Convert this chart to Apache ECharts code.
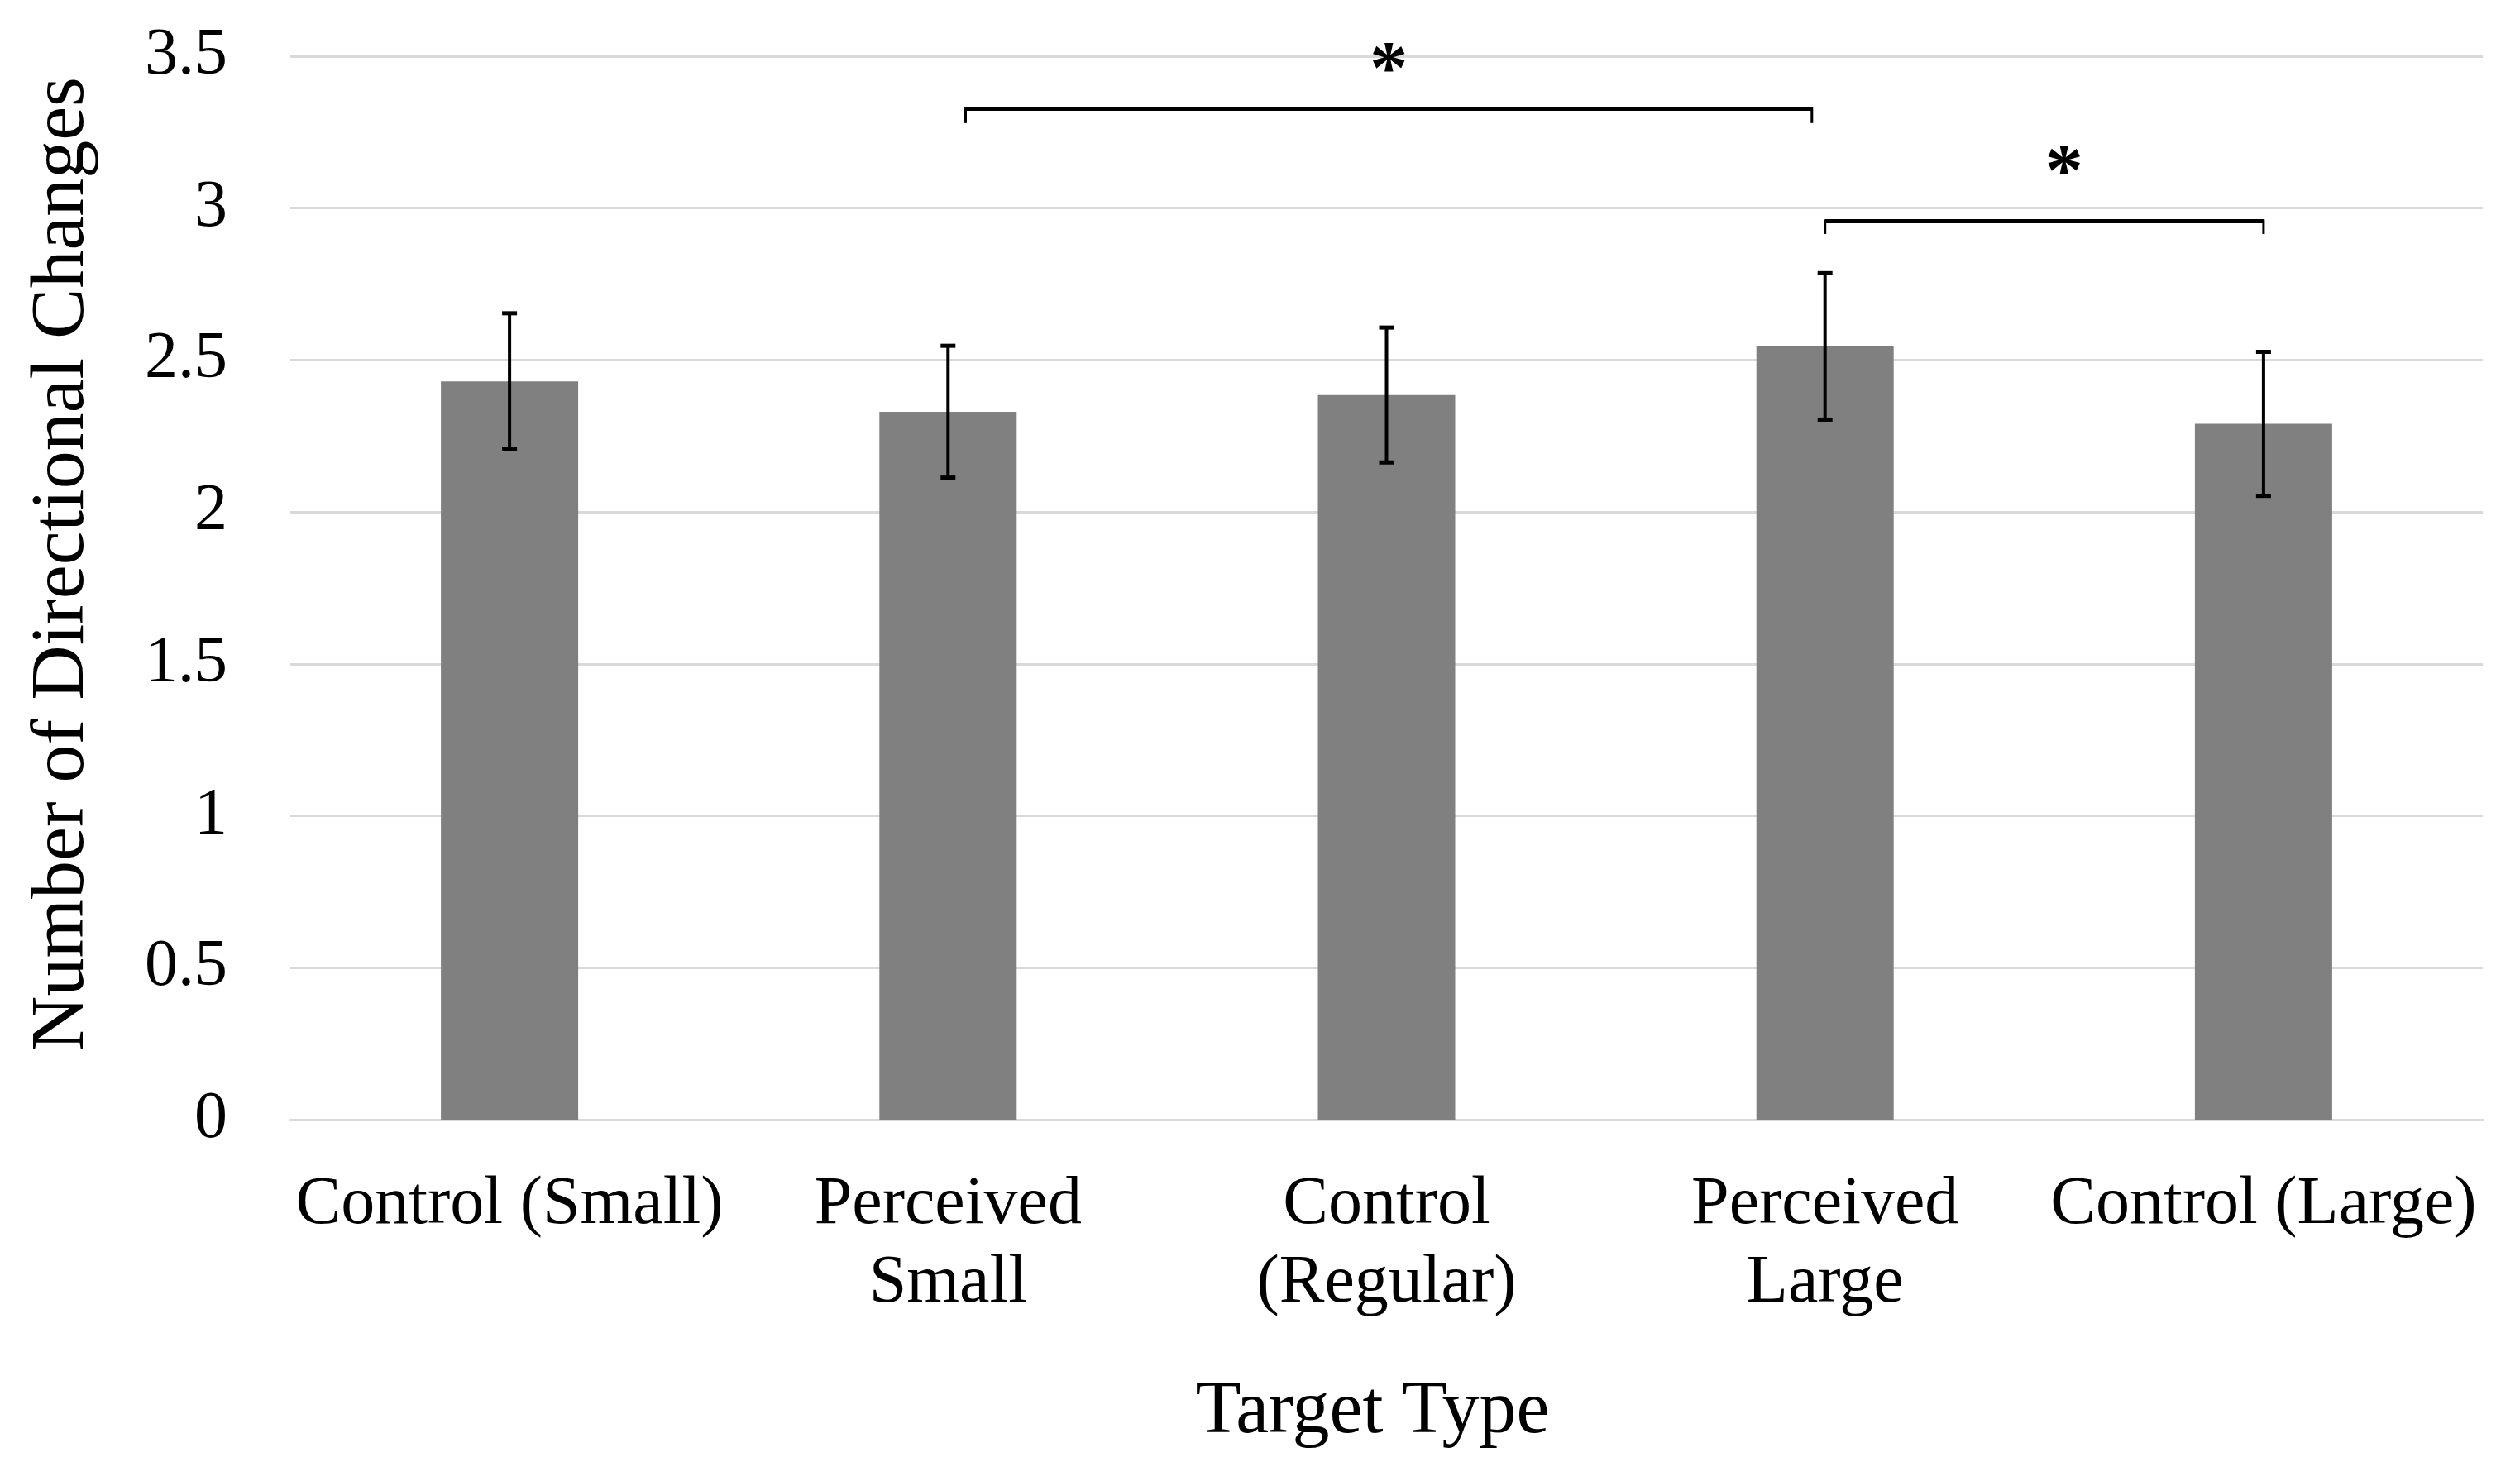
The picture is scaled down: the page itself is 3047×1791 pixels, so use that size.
<!DOCTYPE html>
<html>
<head>
<meta charset="utf-8">
<script src="https://cdn.jsdelivr.net/npm/echarts@6/dist/echarts.min.js"></script>
<style>
html,body{margin:0;padding:0;background:#fff;}
#chart{width:3047px;height:1791px;}
</style>
</head>
<body>
<div id="chart"></div>
<script>
// ---- data ----
const categories = ['Control (Small)', 'Perceived\nSmall', 'Control\n(Regular)', 'Perceived\nLarge', 'Control (Large)'];
const means = [2.43, 2.33, 2.385, 2.545, 2.29];
const errors = [0.224, 0.217, 0.222, 0.241, 0.237];
const yTicks = { min: 0, max: 3.5, interval: 0.5 };
// significance brackets: start / end (category position), bar level, tick end level, star position
const bracketFrom = [1.04, 3.0];
const bracketTo = [2.97, 4.0];
const bracketLevel = [3.327, 2.957];
const bracketTickEnd = [3.28, 2.915];
const starX = [2.005, 3.545];
const starY = [3.445, 3.107];
const starText = ['*', '*'];

const FONT = '"Liberation Serif", "Times New Roman", serif';

const chart = echarts.init(document.getElementById('chart'), null, { renderer: 'canvas' });

const errData = categories.map((c, i) => [i, means[i] - errors[i], means[i] + errors[i]]);
const bracketData = bracketFrom.map((f, i) => [f, bracketTo[i], bracketLevel[i], bracketTickEnd[i], starX[i], starY[i]]);

function xAt(api, f) {
  const base = api.coord([0, 0])[0];
  const bw = api.size([1, 0])[0];
  return base + f * bw;
}

chart.setOption({
  backgroundColor: '#ffffff',
  animation: false,
  grid: { left: 351, right: 45, top: 68, bottom: 437, containLabel: false },
  xAxis: {
    type: 'category',
    data: categories,
    name: 'Target Type',
    nameLocation: 'middle',
    nameGap: 309,
    nameTextStyle: { fontFamily: FONT, fontSize: 90, color: '#000', padding: [0, 34, 0, 0] },
    axisLine: { show: true, lineStyle: { color: '#d9d9d9', width: 3 } },
    axisTick: { show: false },
    axisLabel: { interval: 0, margin: 56, fontFamily: FONT, fontSize: 82, lineHeight: 95, color: '#000' },
    splitLine: { show: false }
  },
  yAxis: {
    type: 'value',
    min: yTicks.min,
    max: yTicks.max,
    interval: yTicks.interval,
    name: 'Number of Directional Changes',
    nameLocation: 'middle',
    nameGap: 229,
    nameTextStyle: { fontFamily: FONT, fontSize: 92, color: '#000', padding: [0, 0, 0, 58] },
    axisLine: { show: false },
    axisTick: { show: false },
    axisLabel: { margin: 76, fontFamily: FONT, fontSize: 80, color: '#000' },
    splitLine: { show: true, lineStyle: { color: '#d9d9d9', width: 3 } }
  },
  series: [
    {
      type: 'bar',
      data: means,
      barWidth: 166,
      itemStyle: { color: '#808080' },
      z: 2
    },
    {
      type: 'custom',
      data: errData,
      z: 3,
      renderItem: function (params, api) {
        const x = api.coord([api.value(0), 0])[0];
        const lo = api.coord([api.value(0), api.value(1)])[1];
        const hi = api.coord([api.value(0), api.value(2)])[1];
        const cw = 9;
        const style = { stroke: '#000', lineWidth: 4 };
        const capStyle = { stroke: '#000', lineWidth: 5 };
        return {
          type: 'group',
          children: [
            { type: 'line', shape: { x1: x, y1: hi, x2: x, y2: lo }, style: style },
            { type: 'line', shape: { x1: x - cw, y1: hi, x2: x + cw, y2: hi }, style: capStyle },
            { type: 'line', shape: { x1: x - cw, y1: lo, x2: x + cw, y2: lo }, style: capStyle }
          ]
        };
      }
    },
    {
      type: 'custom',
      data: bracketData,
      z: 4,
      renderItem: function (params, api) {
        const x0 = xAt(api, api.value(0));
        const x1 = xAt(api, api.value(1));
        const yl = api.coord([0, api.value(2)])[1];
        const yt = api.coord([0, api.value(3)])[1];
        const sx = xAt(api, api.value(4));
        const sy = api.coord([0, api.value(5)])[1];
        return {
          type: 'group',
          children: [
            { type: 'line', shape: { x1: x0, y1: yl, x2: x1, y2: yl }, style: { stroke: '#000', lineWidth: 5 } },
            { type: 'line', shape: { x1: x0, y1: yl - 2, x2: x0, y2: yt }, style: { stroke: '#000', lineWidth: 3 } },
            { type: 'line', shape: { x1: x1, y1: yl - 2, x2: x1, y2: yt }, style: { stroke: '#000', lineWidth: 3 } },
            { type: 'text', style: { text: starText[params.dataIndex], x: sx, y: sy, textAlign: 'center', textVerticalAlign: 'middle', fontFamily: FONT, fontSize: 92, fontWeight: 'bold', fill: '#000' } }
          ]
        };
      }
    }
  ]
});
</script>
</body>
</html>
